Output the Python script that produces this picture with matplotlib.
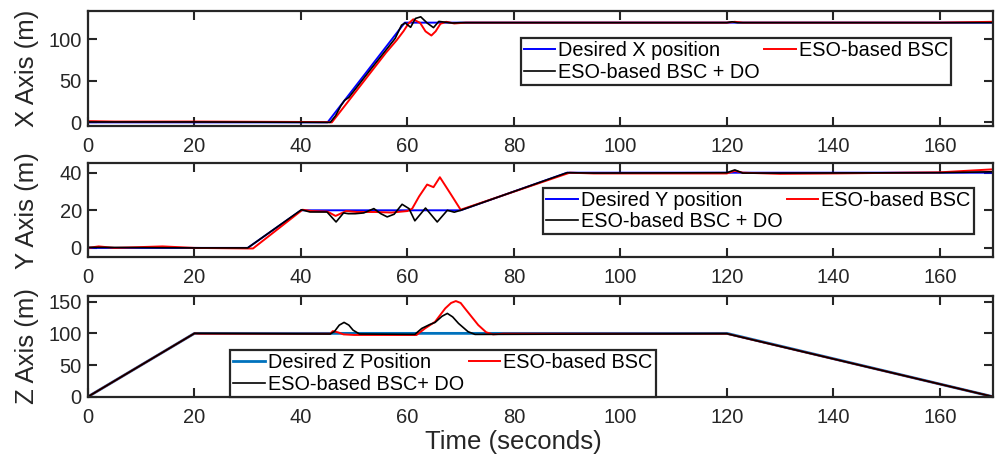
import matplotlib
matplotlib.use("Agg")
import matplotlib.pyplot as plt

plt.rcParams['font.family'] = ['Liberation Sans', 'DejaVu Sans']

# ---- X axis data ----
t_xd = [0, 45, 59.5, 170]
x_des = [0, 0, 120, 120]

t_xr = [0, 5, 20, 40, 45, 45.8, 48, 52, 56, 58, 59.3, 60.2, 61.1, 62.4, 63.4, 64.5, 65.3,
        66.2, 67.3, 68.8, 71, 80, 120, 121.5, 123, 160, 170]
x_red = [1.5, 1, 1, 0.5, 0.3, 0, 18, 51, 84, 99, 110, 119, 124, 119.6, 109.5, 104.5, 109.5,
         118.6, 121, 119, 120, 120, 120, 121, 120, 120, 121]

t_xb = [0, 20, 45, 45.5, 46.5, 47.5, 48.2, 49, 53, 57.7, 58.9, 59.6, 60.6, 61.5, 62.5, 63.7,
        64.9, 65.9, 67.1, 68.5, 70, 120, 121, 122, 170]
x_blk = [0.5, 0.5, 0, 0, 8, 20, 26.5, 30, 63, 101, 117, 119.6, 114.4, 125, 127, 119.6,
         114, 121.5, 120.5, 119.5, 120, 120, 121, 120, 120]

# ---- Y axis data ----
t_yd = [0, 30, 40, 70, 90, 170]
y_des = [0, 0, 20, 20, 40, 40]

t_yr = [0, 2, 5, 14, 20, 30, 31, 40.3, 42, 45, 46.5, 48.5, 50.5, 54, 57, 60, 60.9, 62.2,
        63.7, 64.9, 66.1, 68.1, 70, 90.5, 95, 120, 121.5, 123, 130, 140, 160, 170]
y_red = [0, 0.8, 0, 0.8, 0, -0.3, -0.3, 20.3, 19.6, 19.3, 17, 19.6, 19.1, 19.1, 18.8, 19.6,
         20.9, 27.4, 33.7, 32.3, 37.6, 28.8, 20.3, 40, 39.6, 39.6, 41, 40, 39.4, 39.6, 40.2, 41.8]

t_yb = [0, 20, 30, 40.1, 41.7, 44.9, 46.6, 48, 48.9, 50.2, 51.8, 53.7, 55, 56.2, 57.5, 59,
        60.3, 61.4, 63.4, 65.6, 67.5, 68.8, 70, 90, 95, 120, 121.5, 123, 130, 160, 170]
y_blk = [0.3, 0, 0, 20.3, 19.1, 19.1, 13.8, 18.6, 18.2, 18.2, 18.6, 20.9, 18.2, 16.5, 17.9,
         23.2, 20.9, 14.4, 21.2, 13.8, 20, 19, 20, 40, 39.8, 40, 41.5, 39.8, 39.8, 40, 40.5]

# ---- Z axis data ----
t_zd = [0, 20, 120, 170]
z_des = [0, 100, 100, 0]

t_zr = [0, 20, 21, 45.5, 46, 47, 48, 50, 61.7, 63.3, 65.2, 67.1, 68.2, 69.1, 70, 70.8, 73.3,
        74.8, 76.1, 78, 120, 170]
z_red = [0, 100, 99.5, 99.5, 103.6, 101.5, 98.4, 97.5, 97.4, 107.8, 118.3, 139.4, 148, 151,
         148, 139.4, 113.2, 101.7, 98.4, 99.5, 99.5, 0]

t_zb = [0, 20, 45.5, 46.3, 47.2, 48.1, 49, 49.8, 51, 61.4, 62.7, 64.2, 65.2, 66.5, 67.5,
        68.5, 69.6, 71.4, 72.7, 120, 170]
z_blk = [0, 100, 99, 103, 113, 117.3, 113, 105, 99, 98.4, 107.8, 114, 117.3, 127, 131.5,
         126, 115.7, 102.6, 98.4, 99.5, 0]

xticks = [0, 20, 40, 60, 80, 100, 120, 140, 160]

W, H = 997, 455
fig = plt.figure(figsize=(W / 100, H / 100), dpi=100)


def px_axes(left, right, top, bottom):
    return fig.add_axes([left / W, (H - bottom) / H, (right - left) / W, (bottom - top) / H])


def style(ax, ylim, yticks):
    ax.set_xlim(0, 170)
    ax.set_ylim(*ylim)
    ax.set_xticks(xticks)
    ax.set_yticks(yticks)
    ax.tick_params(direction='in', top=True, right=True, length=6.5, width=1.5,
                   labelsize=14.5, colors='#262626')
    ax.tick_params(axis='x', pad=8)
    ax.tick_params(axis='y', pad=4.5)
    for s in ax.spines.values():
        s.set_linewidth(1.6)
        s.set_color('#262626')


def leg(ax, x0, y, loc, colsp):
    h, lb = ax.get_legend_handles_labels()
    # matplotlib fills columns first: reorder so rows read desired, BSC / BSC+DO
    order = [0, 2, 1]
    l = ax.legend([h[i] for i in order], [lb[i] for i in order], ncol=2, loc=loc,
                  bbox_to_anchor=(x0 / W, (H - y) / H), bbox_transform=fig.transFigure,
                  borderaxespad=0, fontsize=14.3, fancybox=False, framealpha=1,
                  edgecolor='#262626', handlelength=1.6, handletextpad=0.15,
                  labelspacing=0.12, borderpad=0.15, columnspacing=colsp)
    l.get_frame().set_linewidth(1.6)
    return l


ax1 = px_axes(88, 993, 11, 125.7)
ax1.plot(t_xd, x_des, color='#0000ff', lw=1.4, label='Desired X position')
ax1.plot(t_xr, x_red, color='#ff0000', lw=1.4, label='ESO-based BSC')
ax1.plot(t_xb, x_blk, color='black', lw=1.2, label='ESO-based BSC + DO')
style(ax1, (-4, 134), [0, 50, 100])
leg(ax1, 520.7, 38.3, 'upper left', 0.2)

ax2 = px_axes(88, 993, 163.3, 257.3)
ax2.plot(t_yd, y_des, color='#0000ff', lw=1.4, label='Desired Y position')
ax2.plot(t_yr, y_red, color='#ff0000', lw=1.4, label='ESO-based BSC')
ax2.plot(t_yb, y_blk, color='black', lw=1.2, label='ESO-based BSC + DO')
style(ax2, (-5, 45), [0, 20, 40])
leg(ax2, 543.3, 187.7, 'upper left', 0.2)

ax3 = px_axes(88, 993, 296, 396.7)
ax3.plot(t_zd, z_des, color='#0072bd', lw=2.0, label='Desired Z Position')
ax3.plot(t_zr, z_red, color='#ff0000', lw=1.4, label='ESO-based BSC')
ax3.plot(t_zb, z_blk, color='black', lw=1.2, label='ESO-based BSC+ DO')
style(ax3, (0, 159), [0, 50, 100, 150])
leg(ax3, 229.8, 396.7, 'lower left', 0.25)

for ax, lab in [(ax1, 'X Axis (m)'), (ax2, 'Y Axis (m)'), (ax3, 'Z Axis (m)')]:
    bb = ax.get_position()
    fig.text(27 / W, bb.y0 + bb.height / 2, lab, rotation=90, ha='center', va='center',
             fontsize=18.5, color='#262626')

fig.text(513 / W, 0.003, 'Time (seconds)', ha='center', va='bottom', fontsize=18.5,
         color='#262626')

fig.savefig('out.png', dpi=100)
